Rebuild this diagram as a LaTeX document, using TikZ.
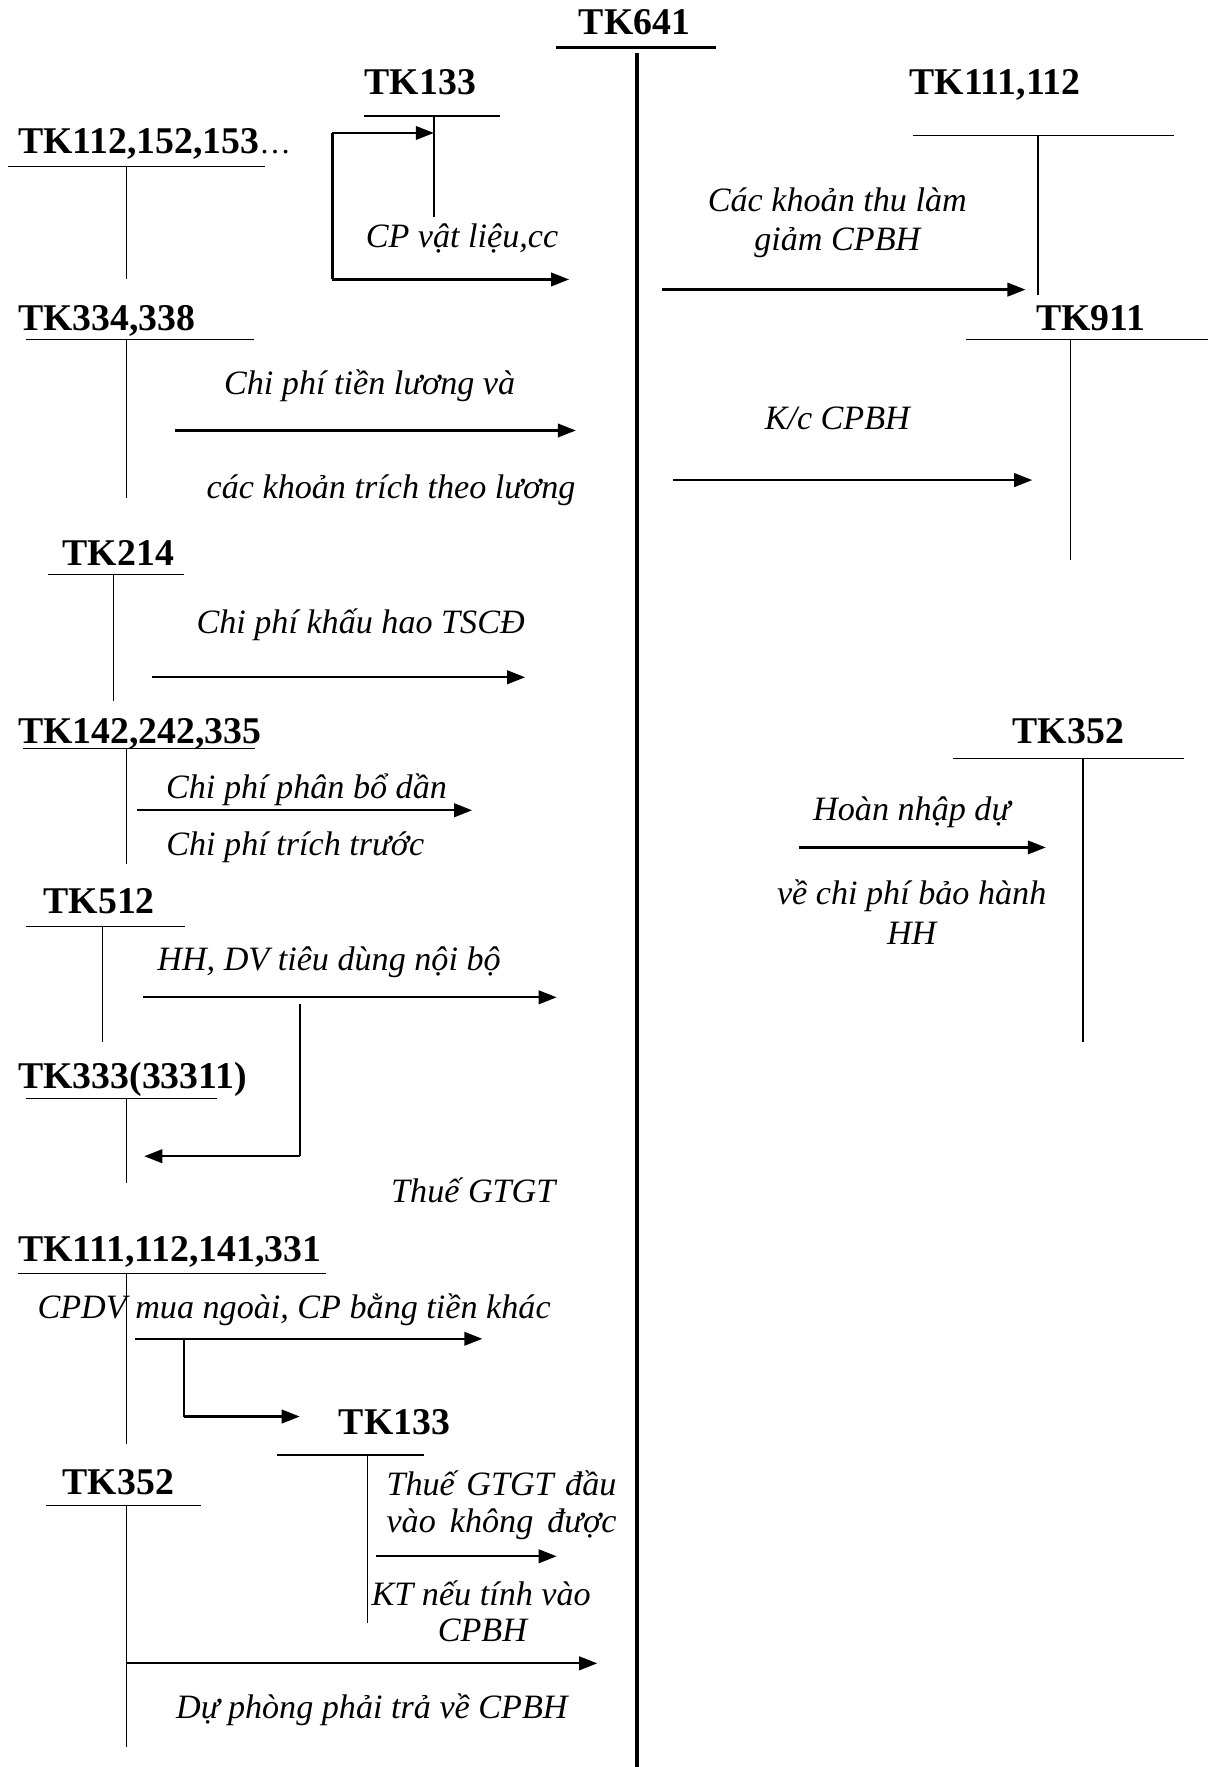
\documentclass[tikz,border=0pt]{standalone}
\usepackage{fontspec}
\setmainfont{Liberation Serif}
\usetikzlibrary{arrows.meta}
\begin{document}
\begin{tikzpicture}[x=1pt,y=-1pt,
 acc/.style={font=\fontsize{33.5}{37}\selectfont\bfseries, inner sep=0pt, anchor=base},
 accw/.style={acc, anchor=base west},
 lbl/.style={font=\fontsize{30.3}{34}\selectfont\itshape, inner sep=0pt, anchor=base},
 tline/.style={line width=1.2pt},
 mainline/.style={line width=3.2pt},
 arr/.style={line width=2pt, -{Triangle[length=16pt,width=12pt]}},
 seg/.style={line width=2pt}]
\useasboundingbox (0,0) rectangle (1076,1568);

% ---- main account TK641
\node[acc] (t641) at (563,31) {TK641};
\coordinate (m0) at (565,47);
\coordinate (m1) at (565,1568);
\draw[mainline] (493,42) -- (635,42);
\draw[mainline] (m0) -- (m1);

% ---- TK112,152,153...
\node[accw] (a1) at (16,136) {TK112,152,153{\mdseries\fontsize{28}{30}\selectfont…}};
\draw[tline] (7,148) -- (235,148);
\draw[tline] (112,148) -- (112,248);

% ---- TK133 (top)
\node[acc] (a2) at (373,84) {TK133};
\draw[tline] (323,103) -- (444,103);
\coordinate (a2v) at (385,118);
\draw[tline] (385,103) -- (385,193);
\coordinate (b1) at (295,118);
\coordinate (b2) at (295,248);
\coordinate (b3) at (505,248);
\draw[seg] (b2) -- (b1);
\draw[arr] (b1) -- (a2v);
\draw[arr] (b2) -- (b3);
\node[lbl] (l1) at (410,220) {CP vật liệu,cc};

% ---- TK111,112 (right)
\node[acc] (r1) at (883,84) {TK111,112};
\draw[tline] (810,120) -- (1042,120);
\draw[tline] (921,120) -- (921,262);
\node[lbl] (l2a) at (743,188) {Các khoản thu làm};
\node[lbl] (l2b) at (743,222) {giảm CPBH};
\coordinate (c1) at (587,257);
\coordinate (c2) at (910,257);
\draw[arr] (c1) -- (c2);

% ---- TK334,338
\node[accw] (a3) at (16,293) {TK334,338};
\draw[tline] (23,301) -- (225,301);
\draw[tline] (112,301) -- (112,442);
\node[lbl] (l3a) at (328,350) {Chi phí tiền lương và};
\coordinate (d1) at (155,382);
\coordinate (d2) at (511,382);
\draw[arr] (d1) -- (d2);
\node[lbl] (l3b) at (347,442) {các khoản trích theo lương};

% ---- TK911
\node[acc] (r2) at (968,293) {TK911};
\draw[tline] (857,301) -- (1072,301);
\draw[tline] (950,301) -- (950,497);
\node[lbl] (l4) at (743,381) {K/c CPBH};
\coordinate (e1) at (597,426);
\coordinate (e2) at (916,426);
\draw[arr] (e1) -- (e2);

% ---- TK214
\node[acc] (a4) at (105,502) {TK214};
\draw[tline] (43,510) -- (163,510);
\draw[tline] (101,510) -- (101,622);
\node[lbl] (l5) at (320,562) {Chi phí khấu hao TSCĐ};
\coordinate (f1) at (135,601);
\coordinate (f2) at (466,601);
\draw[arr] (f1) -- (f2);

% ---- TK142,242,335
\node[accw] (a5) at (16,660) {TK142,242,335};
\draw[tline] (20,664) -- (226,664);
\draw[tline] (112,664) -- (112,767);
\node[lbl] (l6a) at (272,709) {Chi phí phân bổ dần};
\coordinate (g1) at (122,719);
\coordinate (g2) at (419,719);
\draw[arr] (g1) -- (g2);
\node[lbl] (l6b) at (262,759) {Chi phí trích trước};

% ---- TK352 (right)
\node[acc] (r3) at (948,660) {TK352};
\draw[tline] (846,673) -- (1051,673);
\draw[tline] (961,673) -- (961,925);
\node[lbl] (l7a) at (809,728) {Hoàn nhập dự};
\coordinate (h1) at (709,752);
\coordinate (h2) at (928,752);
\draw[arr] (h1) -- (h2);
\node[lbl] (l7b) at (809,803) {về chi phí bảo hành};
\node[lbl] (l7c) at (809,838) {HH};

% ---- TK512
\node[acc] (a6) at (88,811) {TK512};
\draw[tline] (23,822) -- (164,822);
\draw[tline] (91,822) -- (91,925);
\node[lbl] (l8) at (292,861) {HH, DV tiêu dùng nội bộ};
\coordinate (i1) at (127,885);
\coordinate (i2) at (494,885);
\draw[arr] (i1) -- (i2);
\coordinate (i3) at (266,891);
\coordinate (i4) at (266,1026);
\coordinate (i5) at (128,1026);
\draw[seg] (i3) -- (i4);
\draw[arr] (i4) -- (i5);

% ---- TK333(33311)
\node[accw] (a7) at (16,966) {TK333(33311)};
\draw[tline] (23,975) -- (193,975);
\draw[tline] (112,975) -- (112,1050);
\node[lbl] (l9) at (420,1067) {Thuế GTGT};

% ---- TK111,112,141,331
\node[accw] (a8) at (16,1119) {TK111,112,141,331};
\draw[tline] (16,1130) -- (289,1130);
\draw[tline] (112,1130) -- (112,1281);
\node[lbl] (l10) at (261,1170) {CPDV mua ngoài, CP bằng tiền khác};
\coordinate (j1) at (120,1188);
\coordinate (j2) at (428,1188);
\draw[arr] (j1) -- (j2);
\coordinate (j3) at (163,1188);
\coordinate (j4) at (163,1257);
\coordinate (j5) at (266,1257);
\draw[seg] (j3) -- (j4);
\draw[arr] (j4) -- (j5);

% ---- TK133 (bottom)
\node[acc] (a9) at (350,1273) {TK133};
\draw[tline] (246,1291) -- (376,1291);
\draw[tline] (326,1291) -- (326,1440);
\node[lbl] (l11a) at (445,1327) {\makebox[204pt]{Thuế\hfill GTGT\hfill đầu}};
\node[lbl] (l11b) at (445,1360) {\makebox[204pt]{vào\hfill không\hfill được}};
\coordinate (k1) at (334,1381);
\coordinate (k2) at (494,1381);
\draw[arr] (k1) -- (k2);
\node[lbl] (l11c) at (427,1425) {KT nếu tính vào};
\node[lbl] (l11d) at (428,1457) {CPBH};

% ---- TK352 (bottom)
\node[acc] (a10) at (105,1326) {TK352};
\draw[tline] (41,1336) -- (178,1336);
\draw[tline] (112,1336) -- (112,1550);
\coordinate (n1) at (112,1476);
\coordinate (n2) at (530,1476);
\draw[arr] (n1) -- (n2);
\node[lbl] (l12) at (330,1525) {Dự phòng phải trả về CPBH};
\end{tikzpicture}
\end{document}
